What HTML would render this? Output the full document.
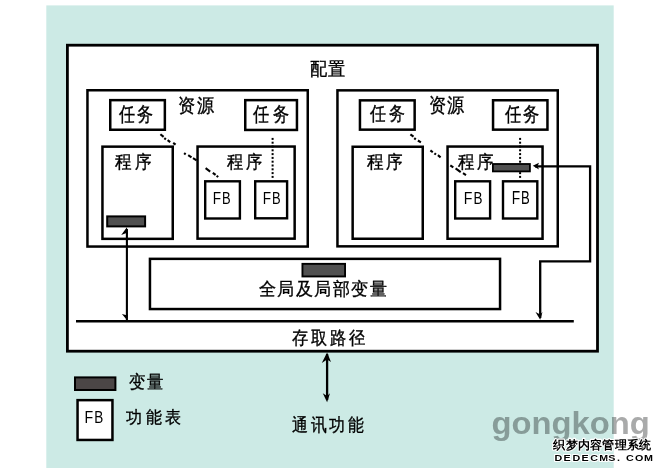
<!DOCTYPE html>
<html><head><meta charset="utf-8"><style>
html,body{margin:0;padding:0;background:#fff;width:662px;height:472px;overflow:hidden}
svg{display:block;font-family:"Liberation Sans",sans-serif}
</style></head><body>
<svg width="662" height="472" viewBox="0 0 662 472">
<rect x="46.3" y="5.4" width="567.4" height="462.6" fill="#cceae5"/>
<rect x="67.40" y="45.20" width="530.10" height="306.00" fill="#fff" stroke="#000" stroke-width="2.8"/>
<rect x="87.45" y="90.25" width="220.30" height="156.30" fill="#fff" stroke="#000" stroke-width="2.5"/>
<rect x="337.45" y="90.35" width="220.30" height="156.00" fill="#fff" stroke="#000" stroke-width="2.5"/>
<rect x="110.25" y="100.15" width="54.60" height="29.60" fill="#fff" stroke="#000" stroke-width="2.5"/>
<rect x="245.25" y="100.15" width="51.70" height="29.80" fill="#fff" stroke="#000" stroke-width="2.5"/>
<rect x="359.95" y="100.35" width="54.70" height="29.30" fill="#fff" stroke="#000" stroke-width="2.5"/>
<rect x="493.05" y="100.25" width="54.40" height="29.40" fill="#fff" stroke="#000" stroke-width="2.5"/>
<rect x="102.45" y="146.65" width="70.30" height="92.20" fill="#fff" stroke="#000" stroke-width="2.5"/>
<rect x="197.55" y="146.55" width="97.10" height="92.10" fill="#fff" stroke="#000" stroke-width="2.5"/>
<rect x="352.65" y="146.75" width="70.10" height="92.00" fill="#fff" stroke="#000" stroke-width="2.5"/>
<rect x="447.55" y="146.55" width="95.00" height="92.20" fill="#fff" stroke="#000" stroke-width="2.5"/>
<rect x="205.20" y="181.30" width="34.70" height="37.20" fill="#fff" stroke="#000" stroke-width="2.4"/>
<rect x="255.20" y="181.30" width="31.90" height="37.00" fill="#fff" stroke="#000" stroke-width="2.4"/>
<rect x="455.20" y="181.30" width="34.90" height="37.20" fill="#fff" stroke="#000" stroke-width="2.4"/>
<rect x="503.00" y="181.30" width="34.30" height="37.20" fill="#fff" stroke="#000" stroke-width="2.4"/>
<rect x="271.60" y="137.90" width="2" height="2" fill="#000"/>
<rect x="271.60" y="141.70" width="2" height="2" fill="#000"/>
<rect x="271.60" y="145.50" width="2" height="2" fill="#000"/>
<rect x="271.60" y="149.30" width="2" height="2" fill="#000"/>
<rect x="271.60" y="153.10" width="2" height="2" fill="#000"/>
<rect x="271.60" y="156.90" width="2" height="2" fill="#000"/>
<rect x="271.60" y="160.70" width="2" height="2" fill="#000"/>
<rect x="271.60" y="164.50" width="2" height="2" fill="#000"/>
<rect x="271.60" y="168.30" width="2" height="2" fill="#000"/>
<rect x="271.60" y="172.10" width="2" height="2" fill="#000"/>
<rect x="271.60" y="175.90" width="2" height="2" fill="#000"/>
<rect x="519.10" y="137.90" width="2" height="2" fill="#000"/>
<rect x="519.10" y="141.70" width="2" height="2" fill="#000"/>
<rect x="519.10" y="145.50" width="2" height="2" fill="#000"/>
<rect x="519.10" y="149.30" width="2" height="2" fill="#000"/>
<rect x="519.10" y="153.10" width="2" height="2" fill="#000"/>
<rect x="519.10" y="156.90" width="2" height="2" fill="#000"/>
<rect x="519.10" y="160.70" width="2" height="2" fill="#000"/>
<rect x="519.10" y="164.50" width="2" height="2" fill="#000"/>
<rect x="519.10" y="168.30" width="2" height="2" fill="#000"/>
<rect x="519.10" y="172.10" width="2" height="2" fill="#000"/>
<rect x="519.10" y="175.90" width="2" height="2" fill="#000"/>
<line x1="160.4" y1="134.3" x2="163.6" y2="136.9" stroke="#000" stroke-width="2.1"/>
<line x1="164.3" y1="138.2" x2="165.9" y2="139.4" stroke="#000" stroke-width="2.1"/>
<line x1="167.6" y1="140.1" x2="170.2" y2="142.1" stroke="#000" stroke-width="2.1"/>
<line x1="173.2" y1="142.9" x2="175.6" y2="144.7" stroke="#000" stroke-width="2.1"/>
<line x1="184.1" y1="153.2" x2="185.7" y2="154.4" stroke="#000" stroke-width="2.1"/>
<line x1="188.2" y1="155.1" x2="191.5" y2="157.4" stroke="#000" stroke-width="2.1"/>
<line x1="193" y1="158.2" x2="196.6" y2="160.4" stroke="#000" stroke-width="2.1"/>
<line x1="205.6" y1="168.2" x2="210.2" y2="171.6" stroke="#000" stroke-width="2.1"/>
<line x1="212.8" y1="172.8" x2="215.6" y2="174.9" stroke="#000" stroke-width="2.1"/>
<line x1="216.6" y1="175.8" x2="218.2" y2="177" stroke="#000" stroke-width="2.1"/>
<line x1="410.4" y1="134.4" x2="413.5" y2="136.7" stroke="#000" stroke-width="2.1"/>
<line x1="414.2" y1="138.2" x2="415.8" y2="139.4" stroke="#000" stroke-width="2.1"/>
<line x1="417.9" y1="140.5" x2="420.9" y2="142.4" stroke="#000" stroke-width="2.1"/>
<line x1="430.4" y1="150.4" x2="432.8" y2="152.3" stroke="#000" stroke-width="2.1"/>
<line x1="434.4" y1="153.3" x2="436" y2="154.5" stroke="#000" stroke-width="2.1"/>
<line x1="437.9" y1="155.2" x2="440.6" y2="157.3" stroke="#000" stroke-width="2.1"/>
<line x1="450.3" y1="165.3" x2="453.3" y2="167.4" stroke="#000" stroke-width="2.1"/>
<line x1="455.6" y1="168.3" x2="460.7" y2="172.1" stroke="#000" stroke-width="2.1"/>
<line x1="463" y1="173.1" x2="466" y2="175.1" stroke="#000" stroke-width="2.1"/>
<rect x="107.20" y="216.40" width="37.90" height="10.00" fill="#505050" stroke="#000" stroke-width="2"/>
<rect x="492.90" y="164.00" width="37.00" height="7.40" fill="#505050" stroke="#000" stroke-width="1.8"/>
<rect x="149.95" y="258.85" width="350.10" height="50.20" fill="#fff" stroke="#000" stroke-width="2.5"/>
<rect x="302.45" y="263.85" width="42.60" height="12.60" fill="#505050" stroke="#000" stroke-width="1.9"/>
<line x1="76" y1="321.2" x2="573.8" y2="321.2" stroke="#000" stroke-width="2.4" />
<line x1="126.9" y1="229" x2="126.9" y2="320" stroke="#000" stroke-width="2.1" />
<polygon points="126.9,227.2 121.2,235 125.8,233.3 128,234.5" fill="#000"/>
<polygon points="126.9,320 121.9,314 125.8,315 128,314.5" fill="#000"/>
<polyline points="535,166.3 590.1,166.3 590.1,261.3 540.2,261.3 540.2,318" fill="none" stroke="#000" stroke-width="2.3" />
<polygon points="532.8,165.8 539,162.8 537.5,166.3 539,169.5" fill="#000"/>
<polygon points="540.2,319.8 535.5,312 540.2,314.5 542.5,312" fill="#000"/>
<line x1="327.1" y1="354" x2="327.1" y2="400" stroke="#000" stroke-width="2.3" />
<polygon points="327.1,352.5 321.8,363 327.1,359.5 331,362" fill="#000"/>
<polygon points="327.1,402.2 322.8,393.2 327.1,396 330,393.2" fill="#000"/>
<rect x="75.00" y="377.40" width="40.40" height="12.60" fill="#4b4646" stroke="#000" stroke-width="2"/>
<rect x="77.55" y="400.15" width="34.90" height="39.80" fill="#fff" stroke="#000" stroke-width="2.5"/>
<text transform="translate(309.56,74.58) scale(0.953,1)" font-size="17.73" letter-spacing="1.69" stroke="#000" stroke-width="0.35">配置</text>
<text transform="translate(177.53,111.95) scale(0.898,1)" font-size="18.81" letter-spacing="2.57" stroke="#000" stroke-width="0.35">资源</text>
<text transform="translate(428.73,112.03) scale(0.854,1)" font-size="19.78" letter-spacing="2.24" stroke="#000" stroke-width="0.35">资源</text>
<text transform="translate(118.80,121.01) scale(0.804,1)" font-size="19.89" letter-spacing="2.61" stroke="#000" stroke-width="0.35">任务</text>
<text transform="translate(253.30,120.83) scale(0.809,1)" font-size="19.78" letter-spacing="4.08" stroke="#000" stroke-width="0.35">任务</text>
<text transform="translate(370.00,120.22) scale(0.841,1)" font-size="19.03" letter-spacing="2.74" stroke="#000" stroke-width="0.35">任务</text>
<text transform="translate(505.20,120.84) scale(0.813,1)" font-size="19.68" letter-spacing="2.71" stroke="#000" stroke-width="0.35">任务</text>
<text transform="translate(115.39,168.07) scale(0.921,1)" font-size="17.85" letter-spacing="3.11" stroke="#000" stroke-width="0.35">程序</text>
<text transform="translate(226.59,168.02) scale(0.900,1)" font-size="18.26" letter-spacing="3.19" stroke="#000" stroke-width="0.35">程序</text>
<text transform="translate(367.09,167.67) scale(0.921,1)" font-size="17.85" letter-spacing="2.57" stroke="#000" stroke-width="0.35">程序</text>
<text transform="translate(458.29,167.76) scale(0.916,1)" font-size="17.95" letter-spacing="2.70" stroke="#000" stroke-width="0.35">程序</text>
<text transform="translate(212.78,203.80) scale(0.801,1)" font-size="17.00" >F</text>
<text transform="translate(222.09,203.80) scale(0.763,1)" font-size="17.00" >B</text>
<text transform="translate(262.78,203.80) scale(0.801,1)" font-size="17.00" >F</text>
<text transform="translate(272.09,203.80) scale(0.763,1)" font-size="17.00" >B</text>
<text transform="translate(463.74,203.80) scale(0.830,1)" font-size="17.00" >F</text>
<text transform="translate(473.40,203.80) scale(0.791,1)" font-size="17.00" >B</text>
<text transform="translate(511.67,203.80) scale(0.778,1)" font-size="17.71" >F</text>
<text transform="translate(521.09,203.80) scale(0.741,1)" font-size="17.71" >B</text>
<text transform="translate(84.44,423.20) scale(0.856,1)" font-size="16.57" >F</text>
<text transform="translate(94.15,423.20) scale(0.816,1)" font-size="16.57" >B</text>
<text transform="translate(259.06,295.46) scale(0.944,1)" font-size="17.89" letter-spacing="2.04" stroke="#000" stroke-width="0.35">全局及局部变量</text>
<text transform="translate(291.70,344.18) scale(0.902,1)" font-size="17.73" letter-spacing="3.36" stroke="#000" stroke-width="0.35">存取路径</text>
<text transform="translate(292.30,430.92) scale(0.879,1)" font-size="18.21" letter-spacing="3.07" stroke="#000" stroke-width="0.35">通讯功能</text>
<text transform="translate(128.59,387.54) scale(0.908,1)" font-size="18.11" letter-spacing="2.28" stroke="#000" stroke-width="0.35">变量</text>
<text transform="translate(126.49,423.42) scale(0.940,1)" font-size="17.47" letter-spacing="3.00" stroke="#000" stroke-width="0.35">功能表</text>
<text transform="translate(491.4,434.2) scale(1.04,1)" font-size="31.5" fill="#a9aaaa" font-weight="bold" style="mix-blend-mode:multiply">gongkong</text>
<text x="553.4" y="448.6" font-size="11.6" font-weight="bold" letter-spacing="0.25" stroke="#fff" stroke-width="2.2" stroke-linejoin="round" paint-order="stroke">织梦内容管理系统</text>
<text x="554.5 562.5 570.5 578.5 586.5 594.5 602.4 610.4 618.4 626.4 634.4" y="461" font-size="9.6" font-weight="bold" stroke="#fff" stroke-width="2.2" stroke-linejoin="round" paint-order="stroke" transform="translate(554.5,0) scale(1.12,1) translate(-554.5,0)">DEDECMS.COM</text>
</svg>
</body></html>
